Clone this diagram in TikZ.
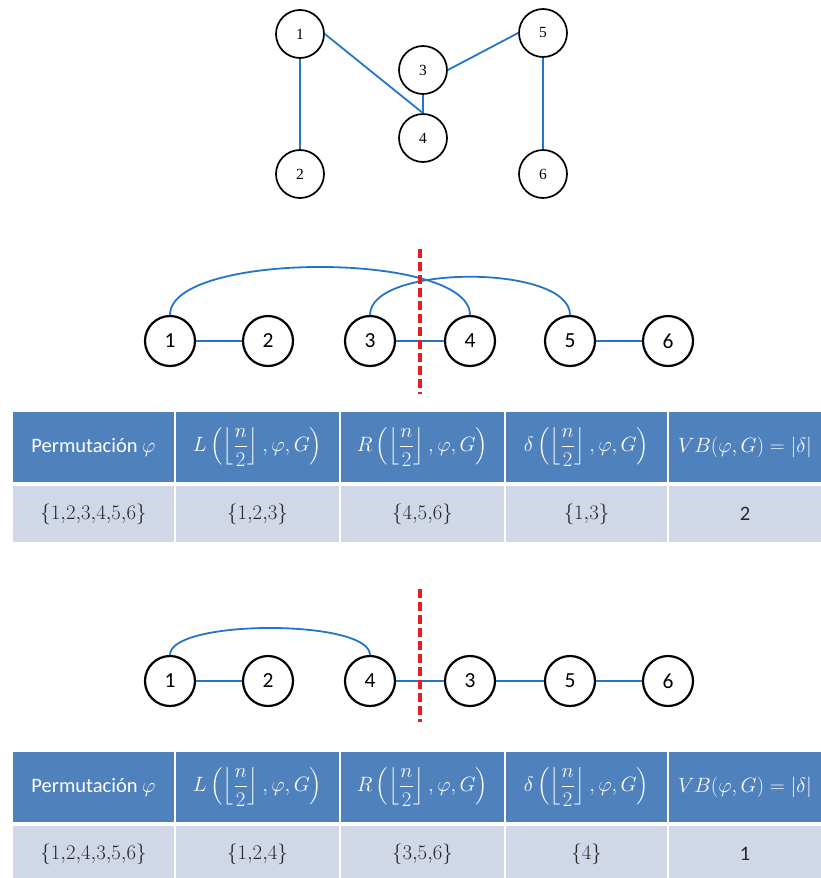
\documentclass[tikz,border=0pt]{standalone}
\usepackage[no-math]{fontspec}
\setmainfont{Carlito}
\newfontfamily\serifnum{Liberation Serif}
\usepackage{amsmath}
\definecolor{edgeblue}{RGB}{36,118,196}
\definecolor{hdrblue}{RGB}{79,129,189}
\definecolor{rowblue}{RGB}{208,216,232}
\definecolor{cutred}{RGB}{228,30,36}
\tikzset{
  tnode/.style={circle,draw=black,line width=1.7pt,fill=white,minimum size=48pt,inner sep=0pt,font=\serifnum\fontsize{15.5}{15.5}\selectfont},
  lnode/.style={circle,draw=black,line width=2.2pt,fill=white,minimum size=50pt,inner sep=0pt,font=\fontsize{21.5}{21.5}\selectfont},
  edge/.style={draw=edgeblue,line width=1.8pt},
  cut/.style={draw=cutred,line width=3.2pt,dash pattern=on 9pt off 4pt},
  hcell/.style={rectangle,draw=white,line width=1.5pt,fill=hdrblue,text=white,inner sep=0pt,font=\fontsize{20.5}{22}\selectfont},
  rcell/.style={rectangle,draw=white,line width=1.5pt,fill=rowblue,text=black!85,inner sep=0pt,font=\fontsize{20.5}{22}\selectfont}
}
\newcommand{\flr}{\left\lfloor\frac{n}{2}\right\rfloor}
\begin{document}
\begin{tikzpicture}[x=1pt,y=-1pt]
\useasboundingbox[fill=white] (0,0) rectangle (820,878);
% ---------- top graph ----------
\node[tnode] (t1) at (300,34) {1};
\node[tnode] (t2) at (300,174) {2};
\node[tnode] (t3) at (423,70) {3};
\node[tnode] (t4) at (423,138) {4};
\node[tnode] (t5) at (543,33) {5};
\node[tnode] (t6) at (543,174) {6};
\draw[edge] (t1.south) -- (t2.north);
\draw[edge] (t1.east) -- (t4.north);
\draw[edge] (t3.south) -- (t4.north);
\draw[edge] (t3.east) -- (t5.west);
\draw[edge] (t5.south) -- (t6.north);
% ---------- middle layout ----------
\node[lnode] (a1) at (170,341) {1};
\node[lnode] (a2) at (268,341) {2};
\node[lnode] (a3) at (370,341) {3};
\node[lnode] (a4) at (470,341) {4};
\node[lnode] (a5) at (570,341) {5};
\node[lnode] (a6) at (668,341) {6};
\draw[edge] (a1.east) -- (a2.west);
\draw[edge] (a3.east) -- (a4.west);
\draw[edge] (a5.east) -- (a6.west);
\draw[edge] (a1.north) .. controls (170,251) and (470,251) .. (a4.north);
\draw[edge] (a3.north) .. controls (370,264) and (570,264) .. (a5.north);
\coordinate (c1t) at (420,249);
\coordinate (c1b) at (420,394);
\draw[cut] (c1t) -- (c1b);
% ---------- table 1 ----------
\node[hcell,minimum width=163pt,minimum height=72pt] (h11) at (93.5,447) {Permutación $\varphi$};
\node[hcell,minimum width=165pt,minimum height=72pt] (h12) at (257.5,447) {$\displaystyle L\left(\flr,\varphi,G\right)$};
\node[hcell,minimum width=165pt,minimum height=72pt] (h13) at (422.5,447) {$\displaystyle R\left(\flr,\varphi,G\right)$};
\node[hcell,minimum width=163pt,minimum height=72pt] (h14) at (586.5,447) {$\displaystyle \delta\left(\flr,\varphi,G\right)$};
\node[hcell,minimum width=154pt,minimum height=72pt] (h15) at (745,447) {$VB(\varphi,G)=|\delta|$};
\node[rcell,minimum width=163pt,minimum height=58pt] (r11) at (93.5,514) {$\{1{,}2{,}3{,}4{,}5{,}6\}$};
\node[rcell,minimum width=165pt,minimum height=58pt] (r12) at (257.5,514) {$\{1{,}2{,}3\}$};
\node[rcell,minimum width=165pt,minimum height=58pt] (r13) at (422.5,514) {$\{4{,}5{,}6\}$};
\node[rcell,minimum width=163pt,minimum height=58pt] (r14) at (586.5,514) {$\{1{,}3\}$};
\node[rcell,minimum width=154pt,minimum height=58pt] (r15) at (745,514) {2};
% ---------- bottom layout ----------
\node[lnode] (b1) at (170,681) {1};
\node[lnode] (b2) at (268,681) {2};
\node[lnode] (b4) at (370,681) {4};
\node[lnode] (b3) at (470,681) {3};
\node[lnode] (b5) at (570,681) {5};
\node[lnode] (b6) at (668,681) {6};
\draw[edge] (b1.east) -- (b2.west);
\draw[edge] (b4.east) -- (b3.west);
\draw[edge] (b3.east) -- (b5.west);
\draw[edge] (b5.east) -- (b6.west);
\draw[edge] (b1.north) .. controls (170,619) and (370,619) .. (b4.north);
\coordinate (c2t) at (420,589);
\coordinate (c2b) at (420,722);
\draw[cut] (c2t) -- (c2b);
% ---------- table 2 ----------
\node[hcell,minimum width=163pt,minimum height=72pt] (h21) at (93.5,787) {Permutación $\varphi$};
\node[hcell,minimum width=165pt,minimum height=72pt] (h22) at (257.5,787) {$\displaystyle L\left(\flr,\varphi,G\right)$};
\node[hcell,minimum width=165pt,minimum height=72pt] (h23) at (422.5,787) {$\displaystyle R\left(\flr,\varphi,G\right)$};
\node[hcell,minimum width=163pt,minimum height=72pt] (h24) at (586.5,787) {$\displaystyle \delta\left(\flr,\varphi,G\right)$};
\node[hcell,minimum width=154pt,minimum height=72pt] (h25) at (745,787) {$VB(\varphi,G)=|\delta|$};
\node[rcell,minimum width=163pt,minimum height=58pt] (r21) at (93.5,854) {$\{1{,}2{,}4{,}3{,}5{,}6\}$};
\node[rcell,minimum width=165pt,minimum height=58pt] (r22) at (257.5,854) {$\{1{,}2{,}4\}$};
\node[rcell,minimum width=165pt,minimum height=58pt] (r23) at (422.5,854) {$\{3{,}5{,}6\}$};
\node[rcell,minimum width=163pt,minimum height=58pt] (r24) at (586.5,854) {$\{4\}$};
\node[rcell,minimum width=154pt,minimum height=58pt] (r25) at (745,854) {1};
\end{tikzpicture}
\end{document}
